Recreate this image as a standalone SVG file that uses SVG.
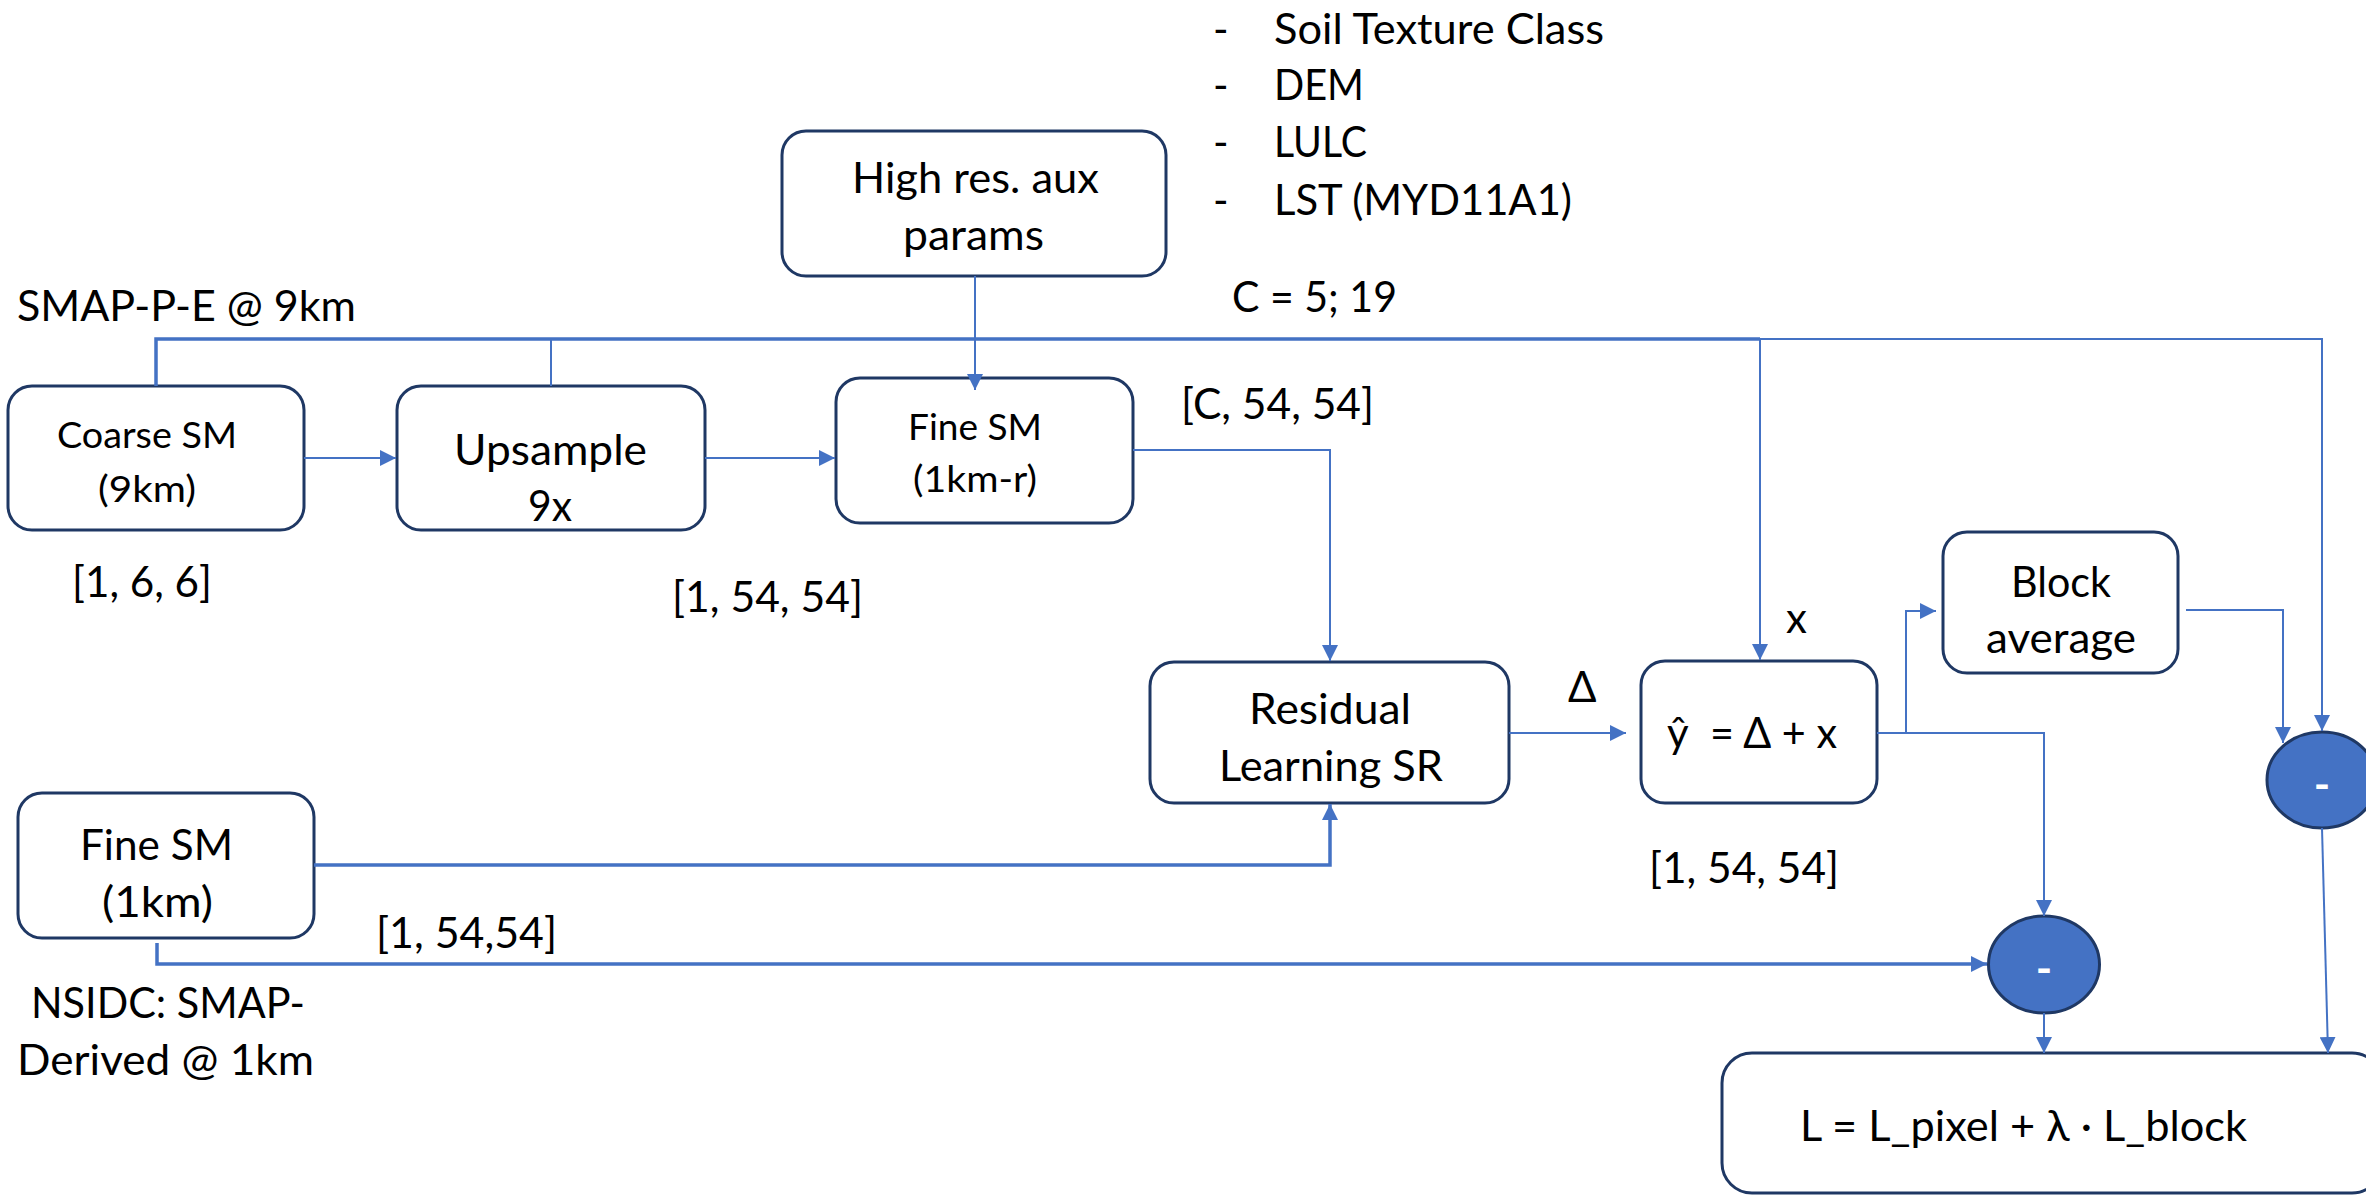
<svg xmlns="http://www.w3.org/2000/svg" width="2366" height="1195" viewBox="0 0 2366 1195">
<defs>
<style>
.box{fill:#fff;stroke:#1F3864;stroke-width:3}
.t{font-family:Lato,"Open Sans","Noto Sans","DejaVu Sans",sans-serif;font-size:42px;fill:#000}
.s{font-size:37px}
.c{fill:none;stroke:#4472C4;stroke-width:2}
.ct{fill:none;stroke:#4472C4;stroke-width:3.5}
.circ{fill:#4472C4;stroke:#1F3864;stroke-width:3}
.w{font-family:Lato,"DejaVu Sans",sans-serif;font-size:44px;font-weight:bold;fill:#fff;text-anchor:middle}
</style>
<marker id="ah" viewBox="0 0 10 10" refX="10" refY="5" markerWidth="16" markerHeight="16" markerUnits="userSpaceOnUse" orient="auto">
<path d="M0,0 L10,5 L0,10 z" fill="#4472C4"/>
</marker>
</defs>
<rect width="2366" height="1195" fill="#fff"/>

<g id="coarse-sm">
<rect class="box" x="8" y="386" width="296" height="144" rx="24"/>
<text class="t s" x="57" y="448" textLength="180" lengthAdjust="spacingAndGlyphs">Coarse SM</text>
<text class="t s" x="98" y="502" textLength="98" lengthAdjust="spacingAndGlyphs">(9km)</text>
</g>

<g id="upsample">
<rect class="box" x="397" y="386" width="308" height="144" rx="24"/>
<text class="t" x="454" y="465" textLength="193" lengthAdjust="spacingAndGlyphs">Upsample</text>
<text class="t" x="528" y="521" textLength="44" lengthAdjust="spacingAndGlyphs">9x</text>
</g>

<g id="fine-sm-1km-r">
<rect class="box" x="836" y="378" width="297" height="145" rx="24"/>
<text class="t s" x="908" y="440" textLength="134" lengthAdjust="spacingAndGlyphs">Fine SM</text>
<text class="t s" x="913" y="492" textLength="124" lengthAdjust="spacingAndGlyphs">(1km-r)</text>
</g>

<g id="high-res-aux">
<rect class="box" x="782" y="131" width="384" height="145" rx="24"/>
<text class="t" x="852" y="193" textLength="247" lengthAdjust="spacingAndGlyphs">High res. aux</text>
<text class="t" x="903" y="250" textLength="141" lengthAdjust="spacingAndGlyphs">params</text>
</g>

<g id="residual-sr">
<rect class="box" x="1150" y="662" width="359" height="141" rx="24"/>
<text class="t" x="1249" y="724" textLength="162" lengthAdjust="spacingAndGlyphs">Residual</text>
<text class="t" x="1219" y="781" textLength="224" lengthAdjust="spacingAndGlyphs">Learning SR</text>
</g>

<g id="yhat">
<rect class="box" x="1641" y="661" width="236" height="142" rx="24"/>
<text class="t" x="1667" y="748">ŷ</text>
<text class="t" x="1710" y="748" textLength="127" lengthAdjust="spacingAndGlyphs">= Δ + x</text>
</g>

<g id="block-average">
<rect class="box" x="1943" y="532" width="235" height="141" rx="24"/>
<text class="t" x="2011" y="597" textLength="100" lengthAdjust="spacingAndGlyphs">Block</text>
<text class="t" x="1986" y="653" textLength="150" lengthAdjust="spacingAndGlyphs">average</text>
</g>

<g id="fine-sm-1km">
<rect class="box" x="18" y="793" width="296" height="145" rx="24"/>
<text class="t" x="80" y="860" textLength="153" lengthAdjust="spacingAndGlyphs">Fine SM</text>
<text class="t" x="102" y="917" textLength="111" lengthAdjust="spacingAndGlyphs">(1km)</text>
</g>

<g id="minus-pixel">
<ellipse class="circ" cx="2044" cy="964.5" rx="55.5" ry="48.5"/>
<text class="w" x="2044" y="984">-</text>
</g>

<g id="minus-block">
<ellipse class="circ" cx="2322" cy="780" rx="55" ry="48"/>
<text class="w" x="2322" y="800">-</text>
</g>

<g id="loss">
<rect class="box" x="1722" y="1053" width="660" height="140" rx="30"/>
<text class="t" x="1800" y="1141" textLength="447" lengthAdjust="spacingAndGlyphs">L = L_pixel + λ · L_block</text>
</g>

<g id="connectors">
<polyline class="ct" points="156,386 156,339 1760,339"/>
<polyline class="c" points="1760,339 2322,339 2322,731" marker-end="url(#ah)"/>
<polyline class="c" points="1760,339 1760,660" marker-end="url(#ah)"/>
<polyline class="c" points="551,386 551,339"/>
<line class="c" x1="975" y1="276" x2="975" y2="390" marker-end="url(#ah)"/>
<line class="c" x1="304" y1="458" x2="396" y2="458" marker-end="url(#ah)"/>
<line class="c" x1="705" y1="458" x2="835" y2="458" marker-end="url(#ah)"/>
<polyline class="c" points="1133,450 1330,450 1330,661" marker-end="url(#ah)"/>
<polyline class="ct" points="314,865 1330,865 1330,804" marker-end="url(#ah)"/>
<polyline class="ct" points="157,943 157,964 1987,964" marker-end="url(#ah)"/>
<line class="c" x1="1509" y1="733" x2="1626" y2="733" marker-end="url(#ah)"/>
<polyline class="c" points="1877,733 1906,733 1906,611 1936,611" marker-end="url(#ah)"/>
<polyline class="c" points="1906,733 2044,733 2044,916" marker-end="url(#ah)"/>
<polyline class="c" points="2186,610 2283,610 2283,743" marker-end="url(#ah)"/>
<line class="c" x1="2044" y1="1013" x2="2044" y2="1053" marker-end="url(#ah)"/>
<line class="c" x1="2322" y1="828" x2="2328" y2="1053" marker-end="url(#ah)"/>
</g>

<g id="labels">
<text class="t" x="17" y="321" textLength="339" lengthAdjust="spacingAndGlyphs">SMAP-P-E @ 9km</text>
<text class="t" x="72" y="597" textLength="140" lengthAdjust="spacingAndGlyphs">[1, 6, 6]</text>
<text class="t" x="672" y="612" textLength="191" lengthAdjust="spacingAndGlyphs">[1, 54, 54]</text>
<text class="t" x="1181" y="419" textLength="193" lengthAdjust="spacingAndGlyphs">[C, 54, 54]</text>
<text class="t" x="1232" y="312" textLength="165" lengthAdjust="spacingAndGlyphs">C = 5; 19</text>
<text class="t" x="1213" y="44">-</text>
<text class="t" x="1274" y="44" textLength="330" lengthAdjust="spacingAndGlyphs">Soil Texture Class</text>
<text class="t" x="1213" y="100">-</text>
<text class="t" x="1274" y="100" textLength="90" lengthAdjust="spacingAndGlyphs">DEM</text>
<text class="t" x="1213" y="157">-</text>
<text class="t" x="1274" y="157" textLength="93" lengthAdjust="spacingAndGlyphs">LULC</text>
<text class="t" x="1213" y="215">-</text>
<text class="t" x="1274" y="215" textLength="298" lengthAdjust="spacingAndGlyphs">LST (MYD11A1)</text>
<text class="t" x="1568" y="702">Δ</text>
<text class="t" x="1786" y="633">x</text>
<text class="t" x="1649" y="883" textLength="190" lengthAdjust="spacingAndGlyphs">[1, 54, 54]</text>
<text class="t" x="376" y="948" textLength="181" lengthAdjust="spacingAndGlyphs">[1, 54,54]</text>
<text class="t" x="31" y="1018" textLength="274" lengthAdjust="spacingAndGlyphs">NSIDC: SMAP-</text>
<text class="t" x="17" y="1075" textLength="297" lengthAdjust="spacingAndGlyphs">Derived @ 1km</text>
</g>
</svg>
